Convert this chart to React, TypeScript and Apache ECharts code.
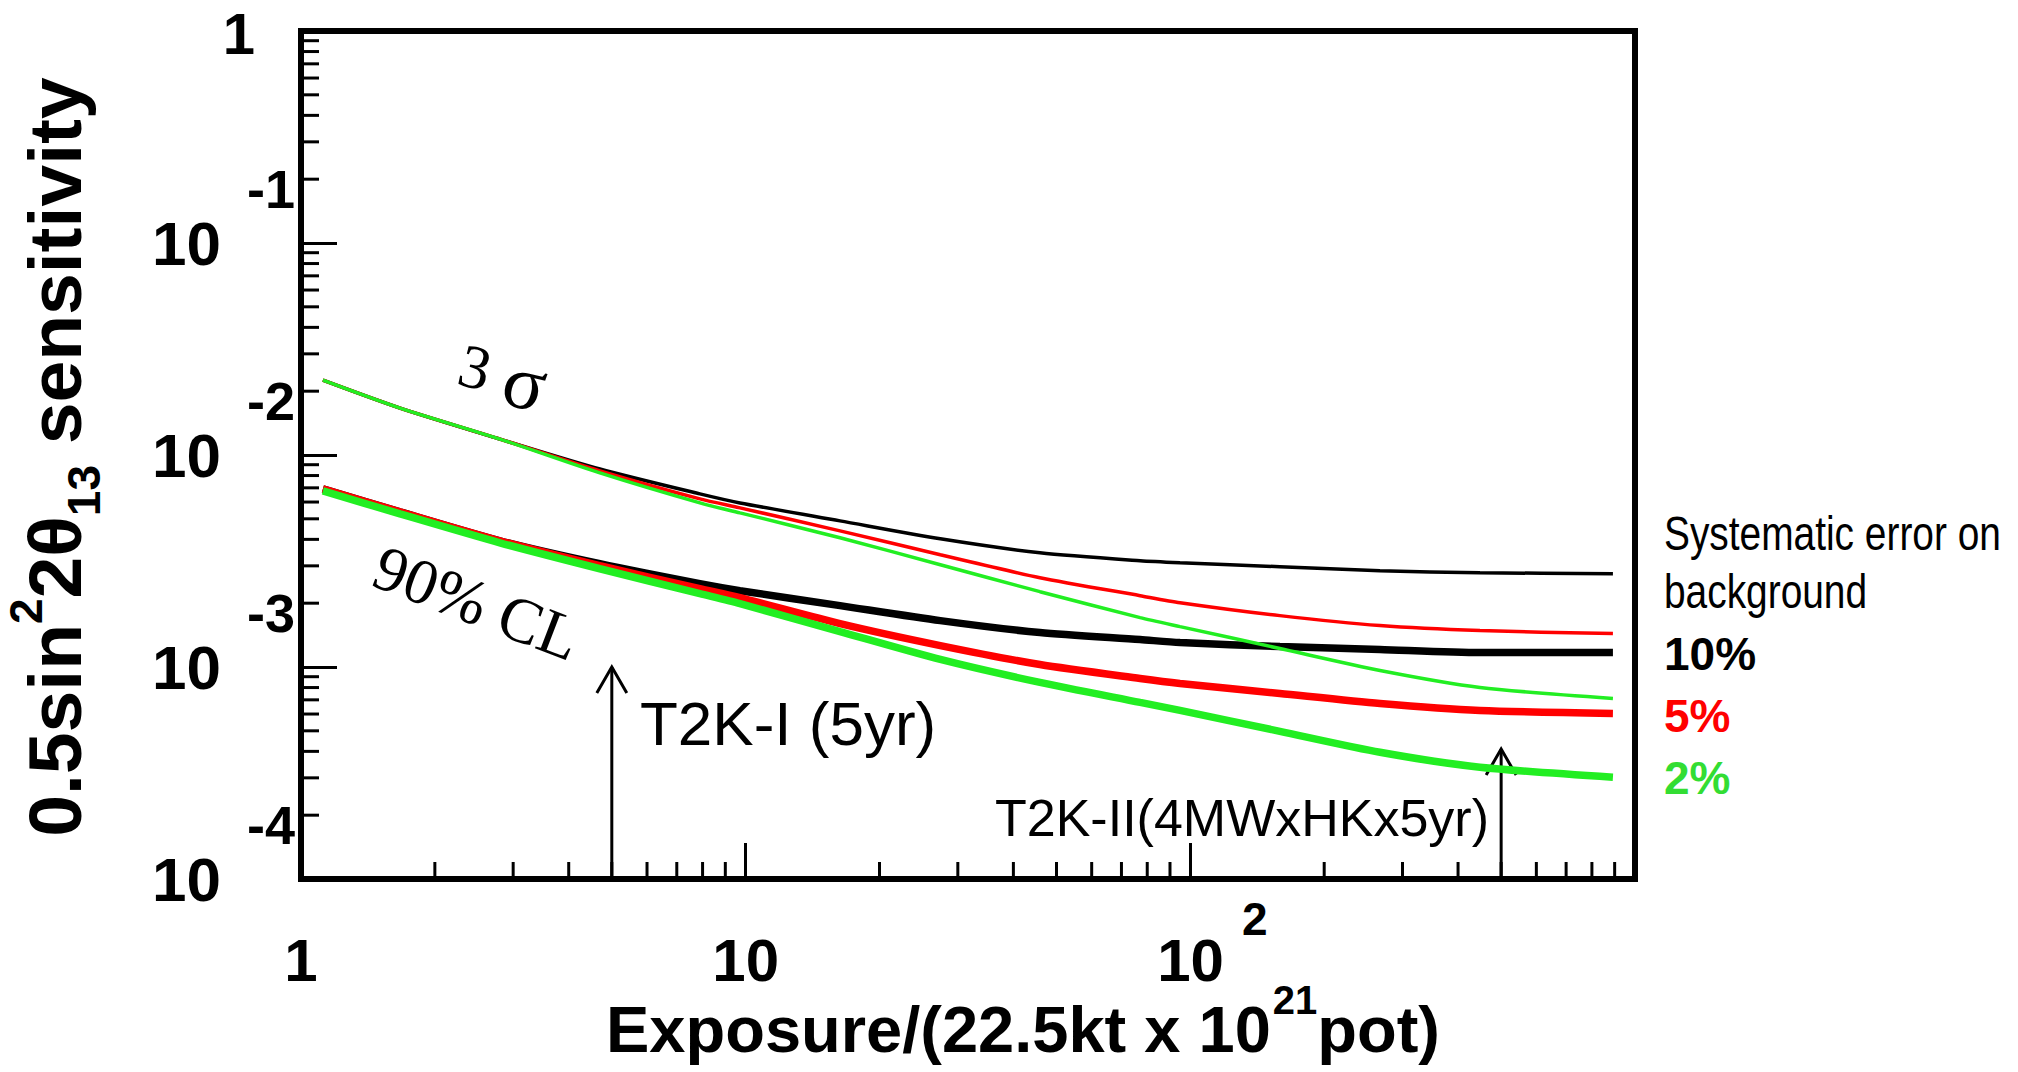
import React, { useEffect, useRef } from "react";
import * as echarts from "echarts";

const exposure = [1.12, 1.67, 2.8, 4.7, 7.89, 9.71, 16.3, 27.4, 45.9, 77.1, 94.8, 159, 267, 448, 892];

// 3 sigma sensitivity (thin lines)
const sigma3Bg10 = [0.02254, 0.01664, 0.01189, 0.008592, 0.006555, 0.005942, 0.00489, 0.004024, 0.003457, 0.003171, 0.003103, 0.002971, 0.002845, 0.002784, 0.002754];
const sigma3Bg5 = [0.02254, 0.01664, 0.01189, 0.008409, 0.006207, 0.005631, 0.004388, 0.003384, 0.002637, 0.00217, 0.002011, 0.001747, 0.001568, 0.001485, 0.001437];
const sigma3Bg2 = [0.02254, 0.01664, 0.01189, 0.008228, 0.005942, 0.005335, 0.004068, 0.003037, 0.002266, 0.00171, 0.001551, 0.001222, 0.0009627, 0.0008007, 0.000711];

// 90% CL sensitivity (thick lines)
const cl90Bg10 = [0.006918, 0.005393, 0.003938, 0.00307, 0.002471, 0.002291, 0.001948, 0.001655, 0.001453, 0.001347, 0.001304, 0.001249, 0.001209, 0.00117, 0.00117];
const cl90Bg5 = [0.006918, 0.005393, 0.003938, 0.003003, 0.002341, 0.002124, 0.001602, 0.001262, 0.001027, 0.0008829, 0.0008365, 0.0007503, 0.0006732, 0.0006241, 0.0006042];
const cl90Bg2 = [0.00677, 0.005278, 0.003854, 0.002907, 0.002218, 0.00199, 0.001469, 0.001085, 0.0008455, 0.0006805, 0.0006241, 0.0004971, 0.0003959, 0.0003366, 0.000302];

// Arrows: [x, yFrom, yTo]
const arrows = [
  [5, 1e-4, 1e-3],
  [500, 1e-4, 4.1e-4],
];
const arrowLabels = ["T2K-I (5yr)", "T2K-II(4MWxHKx5yr)"];

const legendTitle = ["Systematic error on", "background"];
const legendLabels = ["10%", "5%", "2%"];
const BLACK = "#000000";
const RED = "#ff0000";
const GREEN = "#22ee22";
const GREEN_TEXT = "#33dd33";
const legendColors = [BLACK, RED, GREEN_TEXT];

// axis ranges
const xMin = 1;
const xMax = 1000;
const yMin = 1e-4;
const yMax = 1;

const SANS = "'Liberation Sans', Arial, Helvetica, sans-serif";
const SERIF = "'Liberation Serif', 'Times New Roman', serif";

function minorTicks(lo: number, hi: number): number[] {
  const out: number[] = [];
  for (let d = lo; d < hi * 0.999; d *= 10) {
    for (let k = 2; k <= 9; k++) out.push(k * d);
  }
  return out;
}

const pair = (ys: number[]) => exposure.map((x, i) => [x, ys[i]]);

export default function App() {
  const ref = useRef<HTMLDivElement | null>(null);

  useEffect(() => {
    document.body.style.margin = "0";
    if (!ref.current) return;
    const chart = echarts.init(ref.current, undefined, { renderer: "svg" });

    const xMinor = minorTicks(xMin, xMax);
    const yMinor = minorTicks(yMin, yMax);

    const lineSeries = (name: string, ys: number[], color: string, width: number) => ({
      name,
      type: "line",
      data: pair(ys),
      smooth: 0.25,
      showSymbol: false,
      symbol: "none",
      lineStyle: { color, width },
      silent: true,
    });

    const option: any = {
      animation: false,
      backgroundColor: "#ffffff",
      grid: {
        left: 301,
        top: 29,
        width: 1334,
        height: 850,
        show: true,
        borderColor: BLACK,
        borderWidth: 6,
        backgroundColor: "transparent",
        containLabel: false,
      },
      xAxis: {
        type: "log",
        logBase: 10,
        min: xMin,
        max: xMax,
        axisLine: { show: true, lineStyle: { color: BLACK, width: 6 } },
        axisTick: { show: true, inside: true, length: 36, lineStyle: { color: BLACK, width: 3 } },
        splitLine: { show: false },
        minorTick: { show: false },
        axisLabel: {
          show: true,
          margin: 81,
          verticalAlign: "middle",
          showMinLabel: true,
          showMaxLabel: true,
          formatter: (v: number) => {
            const e = Math.round(Math.log10(v));
            if (e === 0) return "{b|1}";
            if (e === 1) return "{b|10}";
            if (e === 2) return "{bp|10}{e|2}";
            return "";
          },
          rich: {
            b: { fontSize: 60, fontWeight: "bold", fontFamily: SANS, color: BLACK },
            bp: { fontSize: 60, fontWeight: "bold", fontFamily: SANS, color: BLACK, padding: [0, 0, 0, 44] },
            e: { fontSize: 46, fontWeight: "bold", fontFamily: SANS, color: BLACK, padding: [0, 0, 82, 18] },
          },
        },
      },
      yAxis: {
        type: "log",
        logBase: 10,
        min: yMin,
        max: yMax,
        axisLine: { show: true, lineStyle: { color: BLACK, width: 6 } },
        axisTick: { show: true, inside: true, length: 36, lineStyle: { color: BLACK, width: 3 } },
        splitLine: { show: false },
        minorTick: { show: false },
        axisLabel: {
          show: true,
          margin: 6,
          align: "right",
          verticalAlign: "middle",
          showMinLabel: true,
          showMaxLabel: true,
          formatter: (v: number) => {
            const e = Math.round(Math.log10(v));
            if (e === 0) return "{one|1}";
            return "{b|10}{e|" + e + "}";
          },
          rich: {
            one: { fontSize: 58, lineHeight: 44, fontWeight: "bold", fontFamily: SANS, color: BLACK, padding: [4, 40, 0, 0] },
            b: { fontSize: 62, fontWeight: "bold", fontFamily: SANS, color: BLACK },
            e: { fontSize: 54, fontWeight: "bold", fontFamily: SANS, color: BLACK, padding: [0, 0, 108, 26] },
          },
        },
      },
      series: [
        // minor ticks on the x axis (2..9 in each decade)
        {
          type: "custom",
          silent: true,
          clip: false,
          data: xMinor.map((v) => [v, 0.01]),
          renderItem: (params: any, api: any) => {
            const x = api.coord([api.value(0), 0.01])[0];
            const cs = params.coordSys;
            const yb = cs.y + cs.height;
            return {
              type: "line",
              shape: { x1: x, y1: yb, x2: x, y2: yb - 17 },
              style: { stroke: BLACK, lineWidth: 3 },
            };
          },
        },
        // minor ticks on the y axis
        {
          type: "custom",
          silent: true,
          clip: false,
          data: yMinor.map((v) => [2, v]),
          renderItem: (params: any, api: any) => {
            const y = api.coord([2, api.value(1)])[1];
            const cs = params.coordSys;
            const xl = cs.x;
            return {
              type: "line",
              shape: { x1: xl, y1: y, x2: xl + 18, y2: y },
              style: { stroke: BLACK, lineWidth: 3 },
            };
          },
        },
        lineSeries("90% CL 10%", cl90Bg10, BLACK, 7.5),
        lineSeries("90% CL 5%", cl90Bg5, RED, 7.5),
        lineSeries("90% CL 2%", cl90Bg2, GREEN, 7.5),
        lineSeries("3 sigma 10%", sigma3Bg10, BLACK, 3.5),
        lineSeries("3 sigma 5%", sigma3Bg5, RED, 3.5),
        lineSeries("3 sigma 2%", sigma3Bg2, GREEN, 3.5),
        // arrows
        {
          type: "custom",
          silent: true,
          clip: false,
          data: arrows,
          renderItem: (_params: any, api: any) => {
            const x = api.value(0);
            const p0 = api.coord([x, api.value(1)]);
            const p1 = api.coord([x, api.value(2)]);
            return {
              type: "group",
              children: [
                {
                  type: "line",
                  shape: { x1: p0[0], y1: p0[1], x2: p1[0], y2: p1[1] },
                  style: { stroke: BLACK, lineWidth: 3 },
                },
                {
                  type: "polyline",
                  shape: { points: [[p1[0] - 15, p1[1] + 26], [p1[0], p1[1]], [p1[0] + 15, p1[1] + 26]] },
                  style: { stroke: BLACK, lineWidth: 3, fill: "none" },
                },
              ],
            };
          },
        },
      ],
      graphic: [
        // y axis title
        {
          type: "text",
          x: 55,
          y: 457,
          rotation: Math.PI / 2,
          silent: true,
          style: {
            text: "{a|0.5sin}{sup|2}{a|2θ}{sub|13}{a| sensitivity}",
            align: "center",
            textAlign: "center",
            verticalAlign: "middle",
            textVerticalAlign: "middle",
            rich: {
              a: { fontSize: 75, lineHeight: 76, fontWeight: "bold", fontFamily: SANS, fill: BLACK },
              sup: { fontSize: 46, lineHeight: 30, fontWeight: "bold", fontFamily: SANS, fill: BLACK, padding: [0, 0, 58, 0] },
              sub: { fontSize: 46, lineHeight: 30, fontWeight: "bold", fontFamily: SANS, fill: BLACK, padding: [58, 0, 0, 0] },
            },
          },
        },
        // x axis title
        {
          type: "text",
          x: 1023,
          y: 1029,
          silent: true,
          style: {
            text: "{a|Exposure/(22.5kt x 10}{s|21}{a|pot)}",
            align: "center",
            textAlign: "center",
            verticalAlign: "middle",
            textVerticalAlign: "middle",
            rich: {
              a: { fontSize: 65, lineHeight: 66, fontWeight: "bold", fontFamily: SANS, fill: BLACK },
              s: { fontSize: 40, lineHeight: 30, fontWeight: "bold", fontFamily: SANS, fill: BLACK, padding: [0, 0, 58, 2] },
            },
          },
        },
        // curve group annotations
        {
          type: "text",
          x: 503,
          y: 374,
          rotation: (-14 * Math.PI) / 180,
          silent: true,
          style: {
            text: "{n|3 }{s|σ}",
            align: "center",
            textAlign: "center",
            verticalAlign: "middle",
            textVerticalAlign: "middle",
            rich: {
              n: { fontSize: 62, fontFamily: SERIF, fill: BLACK },
              s: { fontSize: 78, fontFamily: SERIF, fill: BLACK, padding: [6, 0, 0, 0] },
            },
          },
        },
        {
          type: "text",
          x: 477,
          y: 603,
          rotation: (-21 * Math.PI) / 180,
          silent: true,
          style: {
            text: "90% CL",
            fontSize: 64,
            fontFamily: SERIF,
            fill: BLACK,
            align: "center",
            textAlign: "center",
            verticalAlign: "middle",
            textVerticalAlign: "middle",
          },
        },
        // arrow labels
        {
          type: "text",
          x: 640,
          y: 723,
          silent: true,
          style: {
            text: arrowLabels[0],
            fontSize: 62,
            fontFamily: SANS,
            fill: BLACK,
            align: "left",
            textAlign: "left",
            verticalAlign: "middle",
            textVerticalAlign: "middle",
          },
        },
        {
          type: "text",
          x: 1489,
          y: 818,
          silent: true,
          style: {
            text: arrowLabels[1],
            fontSize: 52,
            fontFamily: SANS,
            fill: BLACK,
            align: "right",
            textAlign: "right",
            verticalAlign: "middle",
            textVerticalAlign: "middle",
          },
        },
        // notes on the right
        ...legendTitle.map((t, i) => ({
          type: "text",
          x: 1664,
          y: 533 + i * 58,
          scaleX: 0.81,
          silent: true,
          style: {
            text: t,
            fontSize: 48,
            fontFamily: SANS,
            fill: BLACK,
            align: "left",
            textAlign: "left",
            verticalAlign: "middle",
            textVerticalAlign: "middle",
          },
        })),
        ...legendLabels.map((t, i) => ({
          type: "text",
          x: 1664,
          y: 654 + i * 62,
          silent: true,
          style: {
            text: t,
            fontSize: 46,
            fontWeight: "bold",
            fontFamily: SANS,
            fill: legendColors[i],
            align: "left",
            textAlign: "left",
            verticalAlign: "middle",
            textVerticalAlign: "middle",
          },
        })),
      ],
    };

    chart.setOption(option);
    return () => {
      chart.dispose();
    };
  }, []);

  return <div ref={ref} style={{ width: 2018, height: 1072 }} />;
}
